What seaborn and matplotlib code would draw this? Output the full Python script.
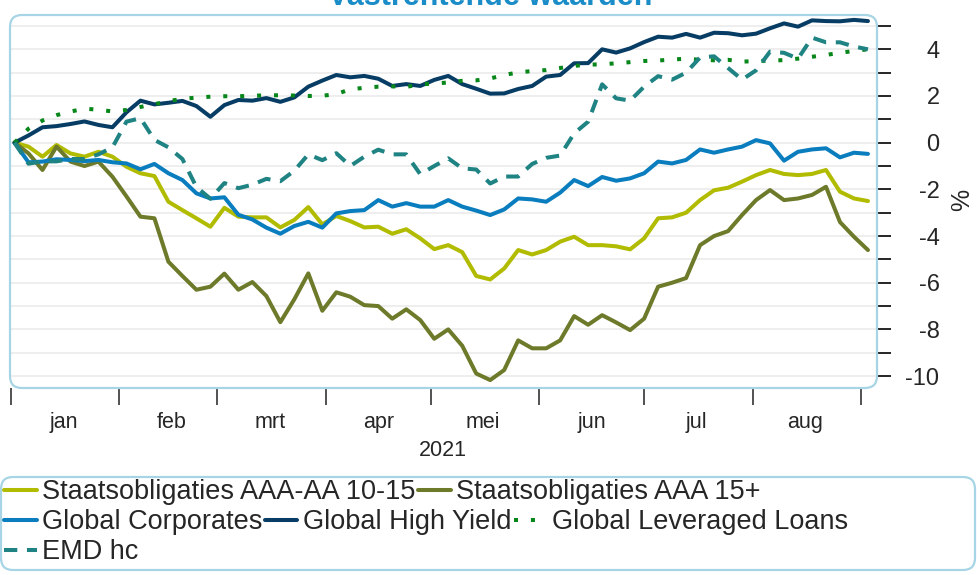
import matplotlib
matplotlib.use('Agg')
import matplotlib.pyplot as plt
import matplotlib.dates as mdates
from matplotlib.patches import FancyBboxPatch
from matplotlib.ticker import FuncFormatter, NullFormatter, FixedLocator
import pandas as pd
import seaborn as sns

# one value every 4 days (cumulative return in %)
dates = pd.date_range('2021-01-02', periods=62, freq='4D')
month_labels = ['jan', 'feb', 'mrt', 'apr', 'mei', 'jun', 'jul', 'aug']

names = ['Staatsobligaties AAA-AA 10-15', 'Staatsobligaties AAA 15+',
         'Global Corporates', 'Global High Yield',
         'Global Leveraged Loans', 'EMD hc']

staats_10_15 = [0.0, -0.17, -0.6, -0.1, -0.46, -0.6, -0.39, -0.6, -1.03, -1.31, -1.43,
                -2.53, -2.89, -3.24, -3.6, -2.79, -3.17, -3.2, -3.2, -3.63, -3.31,
                -2.76, -3.5, -3.14, -3.36, -3.63, -3.6, -3.9, -3.71, -4.1, -4.56, -4.39,
                -4.69, -5.71, -5.86, -5.39, -4.6, -4.79, -4.6, -4.24, -4.03, -4.39,
                -4.39, -4.44, -4.57, -4.1, -3.24, -3.2, -3.0, -2.46, -2.04, -1.93,
                -1.67, -1.39, -1.17, -1.34, -1.39, -1.34, -1.17, -2.1, -2.39, -2.5]
staats_15 = [0.0, -0.46, -1.17, -0.17, -0.81, -1.0, -0.81, -1.46, -2.3, -3.17, -3.24,
             -5.1, -5.71, -6.3, -6.17, -5.61, -6.3, -5.97, -6.57, -7.69, -6.71,
             -5.6, -7.2, -6.41, -6.6, -6.96, -7.0, -7.54, -7.14, -7.6, -8.4, -8.0,
             -8.7, -9.89, -10.17, -9.74, -8.47, -8.81, -8.81, -8.47, -7.43, -7.8,
             -7.39, -7.7, -8.03, -7.54, -6.17, -6.0, -5.8, -4.39, -4.0, -3.79,
             -3.1, -2.46, -2.03, -2.46, -2.39, -2.24, -1.89, -3.4, -4.03, -4.6]
corporates = [0.0, -0.84, -0.81, -0.71, -0.74, -0.79, -0.74, -0.84, -0.89, -1.14, -0.91,
              -1.31, -1.6, -2.17, -2.39, -2.34, -3.09, -3.29, -3.64, -3.9, -3.57,
              -3.39, -3.64, -3.03, -2.93, -2.89, -2.46, -2.74, -2.59, -2.74, -2.74, -2.46,
              -2.74, -2.91, -3.1, -2.86, -2.39, -2.43, -2.53, -2.14, -1.6, -1.86,
              -1.47, -1.63, -1.53, -1.31, -0.81, -0.89, -0.74, -0.29, -0.43, -0.29,
              -0.17, 0.11, -0.03, -0.77, -0.39, -0.29, -0.24, -0.63, -0.43, -0.48]
high_yield = [0.0, 0.31, 0.66, 0.71, 0.8, 0.91, 0.76, 0.66, 1.3, 1.8, 1.64,
              1.71, 1.79, 1.57, 1.11, 1.61, 1.83, 1.8, 1.91, 1.75, 1.94,
              2.4, 2.66, 2.9, 2.8, 2.86, 2.74, 2.43, 2.51, 2.43, 2.69, 2.86,
              2.51, 2.31, 2.1, 2.11, 2.3, 2.43, 2.83, 2.9, 3.4, 3.41,
              4.0, 3.86, 4.04, 4.31, 4.54, 4.5, 4.66, 4.5, 4.71, 4.69,
              4.6, 4.67, 4.9, 5.11, 4.97, 5.24, 5.21, 5.2, 5.26, 5.21]
lev_loans = [0.0, 0.6, 0.95, 1.18, 1.33, 1.46, 1.41, 1.34, 1.4, 1.53, 1.65,
             1.78, 1.88, 1.93, 1.97, 1.99, 1.99, 2.01, 2.03, 2.03, 2.02,
             2.0, 2.01, 2.08, 2.29, 2.35, 2.4, 2.41, 2.39, 2.5, 2.53, 2.58,
             2.65, 2.67, 2.75, 2.9, 3.01, 3.07, 3.11, 3.2, 3.29, 3.34,
             3.36, 3.4, 3.45, 3.5, 3.52, 3.56, 3.6, 3.55, 3.53, 3.55,
             3.47, 3.5, 3.51, 3.54, 3.6, 3.68, 3.76, 3.85, 3.93, 4.0]
emd_hc = [0.0, -0.9, -0.8, -0.8, -0.7, -0.7, -0.5, -0.2, 0.9, 1.05, 0.12,
          -0.2, -0.7, -1.9, -2.4, -1.73, -1.95, -1.8, -1.55, -1.65, -1.2,
          -0.5, -0.75, -0.45, -1.0, -0.6, -0.3, -0.5, -0.5, -1.35, -1.0, -0.67,
          -1.1, -1.15, -1.75, -1.45, -1.45, -0.91, -0.65, -0.55, 0.4, 0.9,
          2.5, 1.9, 1.8, 2.4, 2.85, 2.7, 3.0, 3.65, 3.7, 3.2,
          2.7, 3.1, 3.9, 3.85, 3.6, 4.5, 4.3, 4.3, 4.12, 4.0]

series = [staats_10_15, staats_15, corporates, high_yield, lev_loans, emd_hc]
colors = ['#B1BB00', '#6C7A2A', '#0A7DBE', '#073D65', '#07861A', '#1E8382']
dashes = [None, None, None, None, (1, 3.2), (3.3, 2.4)]

sns.set_style('white')
plt.rcParams['font.family'] = ['Liberation Sans', 'DejaVu Sans']
plt.rcParams['axes.unicode_minus'] = False

fig = plt.figure(figsize=(9.77, 5.75), dpi=100)
ax = fig.add_axes([10 / 977, 1 - 388 / 575, 867 / 977, 373 / 575])

for name, vals, col, dsh in zip(names, series, colors, dashes):
    sns.lineplot(x=dates, y=vals, ax=ax, color=col, linewidth=2.9, legend=False)
    line = ax.lines[-1]
    line.set_label(name)
    line.set_solid_joinstyle('round')
    if dsh is not None:
        line.set_dashes(dsh)
handles = list(ax.lines)

ax.set_xlim(pd.Timestamp('2020-12-31 17:00'), pd.Timestamp('2021-09-05 14:00'))
ax.set_ylim(-10.51, 5.47)
ax.set_xlabel('')
ax.set_ylabel('')
for s in ax.spines.values():
    s.set_visible(False)

# y axis on the right
ax.yaxis.tick_right()
ax.set_yticks(range(-10, 5, 2))
ax.yaxis.set_minor_locator(FixedLocator(range(-9, 6, 2)))
ax.tick_params(axis='y', which='both', length=10, width=1.2, color='black',
               labelsize=17, pad=35, right=True, left=False)
for lab in ax.get_yticklabels():
    lab.set_ha('right')
ax.grid(axis='y', which='both', color='#EDEDED', linewidth=1.3)
ax.set_axisbelow(True)

# x axis: ticks at month starts, labels mid month
ax.xaxis.set_major_locator(mdates.MonthLocator())
ax.xaxis.set_major_formatter(NullFormatter())
ax.xaxis.set_minor_locator(mdates.MonthLocator(bymonthday=16))
ax.xaxis.set_minor_formatter(FuncFormatter(
    lambda v, p: month_labels[mdates.num2date(v).month - 1]))
ax.tick_params(axis='x', which='major', bottom=True, length=12, width=1.2,
               color='#333333', pad=2)
ax.tick_params(axis='x', which='minor', bottom=True, length=0, pad=17, labelsize=15.5)

# rounded frame around the plot area
w_px, h_px = 867, 373
frame = FancyBboxPatch((0, 0), 1, 1, boxstyle='round,pad=0,rounding_size=%f' % (12 / w_px),
                       mutation_aspect=w_px / h_px, transform=ax.transAxes,
                       fill=False, edgecolor='#A8D5E6', linewidth=1.6, clip_on=False, zorder=5)
ax.add_patch(frame)

fig.text(443 / 977, 1 - 450 / 575, '2021', ha='center', va='center', fontsize=15.5)
fig.text(962 / 977, 1 - 200 / 575, '%', ha='center', va='center', rotation=90, fontsize=18)
fig.text(490 / 977, 1 - 5 / 575, 'Vastrentende waarden', ha='center', va='baseline',
         fontsize=22, fontweight='bold', color='#1A8CC8')

# legend in three rows, inside one rounded box
rows = [[0, 1], [2, 3, 4], [5]]
row_y = [492, 522, 552]
for r, yc in zip(rows, row_y):
    fig.legend([handles[i] for i in r], [names[i] for i in r], loc='center left',
               bbox_to_anchor=(4 / 977, 1 - yc / 575), ncol=len(r), frameon=False,
               fontsize=19.5, handlelength=1.2, handletextpad=0.2, columnspacing=0.1,
               borderpad=0, borderaxespad=0)

leg_box = FancyBboxPatch((1 / 977, 1 - 570 / 575), 974 / 977, 93 / 575,
                         boxstyle='round,pad=0,rounding_size=%f' % (12 / 977),
                         mutation_aspect=977 / 575, transform=fig.transFigure,
                         fill=False, edgecolor='#A8D5E6', linewidth=1.6)
fig.patches.append(leg_box)

fig.savefig('out.png', dpi=100)
